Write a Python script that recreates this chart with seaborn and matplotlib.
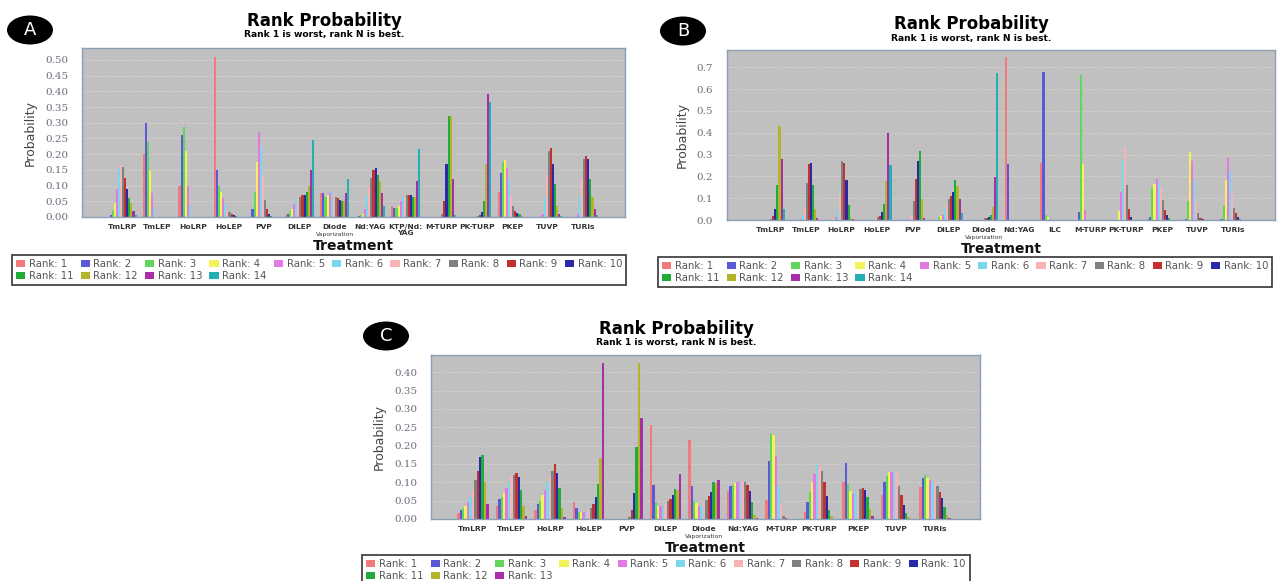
import numpy as np
import pandas as pd
import matplotlib
matplotlib.use("Agg")
import matplotlib.pyplot as plt
from matplotlib.patches import Ellipse, Patch
from matplotlib import font_manager
from matplotlib.transforms import blended_transform_factory
import seaborn as sns

W, H = 1284, 581

# treatments per panel
treatments_a = ["TmLRP", "TmLEP", "HoLRP", "HoLEP", "PVP", "DiLEP", "Diode Vaporization",
                "Nd:YAG", "KTP/Nd:YAG", "M-TURP", "PK-TURP", "PKEP", "TUVP", "TURis"]
treatments_b = ["TmLRP", "TmLEP", "HoLRP", "HoLEP", "PVP", "DiLEP", "Diode Vaporization",
                "Nd:YAG", "ILC", "M-TURP", "PK-TURP", "PKEP", "TUVP", "TURis"]
treatments_c = ["TmLRP", "TmLEP", "HoLRP", "HoLEP", "PVP", "DiLEP", "Diode Vaporization",
                "Nd:YAG", "M-TURP", "PK-TURP", "PKEP", "TUVP", "TURis"]

# rank probabilities, one row per treatment, rank 1 .. N
probs_a = [
    [0.0, 0.005, 0.02, 0.045, 0.09, 0.155, 0.165, 0.16, 0.125, 0.09, 0.06, 0.045, 0.02, 0.005],
    [0.20, 0.30, 0.24, 0.15, 0.075, 0.03, 0.005, 0, 0, 0, 0, 0, 0, 0],
    [0.10, 0.26, 0.285, 0.21, 0.10, 0.035, 0.01, 0, 0, 0, 0, 0, 0, 0],
    [0.51, 0.15, 0.10, 0.08, 0.06, 0.04, 0.02, 0.015, 0.01, 0.005, 0.003, 0, 0, 0],
    [0.0, 0.025, 0.08, 0.175, 0.27, 0.22, 0.13, 0.055, 0.025, 0.008, 0.002, 0, 0, 0],
    [0.005, 0.01, 0.02, 0.025, 0.04, 0.06, 0.065, 0.065, 0.07, 0.07, 0.08, 0.10, 0.15, 0.245],
    [0.075, 0.075, 0.065, 0.07, 0.075, 0.08, 0.075, 0.065, 0.06, 0.055, 0.05, 0.05, 0.075, 0.12],
    [0.0, 0.002, 0.005, 0.01, 0.025, 0.07, 0.10, 0.125, 0.15, 0.155, 0.135, 0.115, 0.075, 0.035],
    [0.035, 0.03, 0.03, 0.035, 0.05, 0.065, 0.065, 0.07, 0.07, 0.07, 0.065, 0.065, 0.115, 0.215],
    [0, 0, 0, 0, 0, 0, 0.003, 0.01, 0.05, 0.17, 0.32, 0.32, 0.12, 0.005],
    [0, 0, 0, 0, 0, 0, 0, 0.002, 0.005, 0.015, 0.05, 0.17, 0.39, 0.365],
    [0.08, 0.14, 0.175, 0.18, 0.155, 0.12, 0.07, 0.035, 0.02, 0.012, 0.008, 0.003, 0, 0],
    [0, 0, 0, 0, 0.01, 0.065, 0.135, 0.21, 0.22, 0.17, 0.105, 0.035, 0.01, 0.003],
    [0, 0, 0, 0, 0.01, 0.065, 0.12, 0.185, 0.195, 0.185, 0.12, 0.065, 0.025, 0.005],
]
probs_b = [
    [0, 0, 0, 0, 0, 0, 0, 0.005, 0.02, 0.05, 0.16, 0.43, 0.28, 0.05],
    [0, 0, 0, 0, 0.005, 0.025, 0.06, 0.17, 0.255, 0.26, 0.16, 0.05, 0.01, 0],
    [0, 0, 0, 0.005, 0.015, 0.045, 0.12, 0.27, 0.26, 0.185, 0.07, 0.01, 0.005, 0],
    [0, 0, 0, 0, 0, 0.005, 0.01, 0.015, 0.02, 0.035, 0.075, 0.18, 0.40, 0.25],
    [0, 0, 0, 0, 0.005, 0.01, 0.02, 0.085, 0.19, 0.27, 0.315, 0.095, 0.01, 0],
    [0, 0, 0.015, 0.02, 0.025, 0.05, 0.07, 0.095, 0.11, 0.13, 0.185, 0.155, 0.095, 0.03],
    [0, 0, 0, 0, 0, 0.002, 0.003, 0.008, 0.01, 0.015, 0.025, 0.06, 0.195, 0.675],
    [0.745, 0.255, 0, 0, 0, 0, 0, 0, 0, 0, 0, 0, 0, 0],
    [0.26, 0.68, 0.025, 0.015, 0.005, 0, 0, 0, 0, 0, 0, 0, 0, 0],
    [0, 0.035, 0.665, 0.255, 0.045, 0, 0, 0, 0, 0, 0, 0, 0, 0],
    [0, 0, 0, 0.04, 0.13, 0.275, 0.33, 0.16, 0.05, 0.015, 0, 0, 0, 0],
    [0.003, 0.015, 0.145, 0.165, 0.19, 0.17, 0.15, 0.09, 0.045, 0.025, 0.008, 0, 0, 0],
    [0, 0.003, 0.085, 0.31, 0.27, 0.185, 0.085, 0.03, 0.01, 0.003, 0, 0, 0, 0],
    [0, 0.005, 0.065, 0.185, 0.285, 0.225, 0.13, 0.055, 0.03, 0.015, 0.003, 0, 0, 0],
]
probs_c = [
    [0.015, 0.025, 0.03, 0.035, 0.045, 0.06, 0.08, 0.105, 0.13, 0.17, 0.175, 0.10, 0.04],
    [0.035, 0.055, 0.06, 0.07, 0.085, 0.10, 0.115, 0.12, 0.125, 0.115, 0.08, 0.035, 0.008],
    [0.025, 0.04, 0.05, 0.065, 0.08, 0.10, 0.115, 0.13, 0.15, 0.125, 0.085, 0.03, 0.005],
    [0.045, 0.03, 0.02, 0.018, 0.02, 0.02, 0.025, 0.03, 0.04, 0.06, 0.095, 0.165, 0.425],
    [0, 0, 0, 0, 0, 0, 0, 0.005, 0.025, 0.07, 0.195, 0.425, 0.275],
    [0.257, 0.093, 0.046, 0.036, 0.035, 0.036, 0.04, 0.048, 0.055, 0.066, 0.082, 0.08, 0.123],
    [0.216, 0.089, 0.05, 0.043, 0.035, 0.035, 0.045, 0.053, 0.062, 0.074, 0.10, 0.098, 0.105],
    [0.075, 0.089, 0.093, 0.098, 0.10, 0.102, 0.103, 0.10, 0.093, 0.077, 0.047, 0.012, 0.003],
    [0.053, 0.159, 0.232, 0.23, 0.173, 0.09, 0.039, 0.009, 0.003, 0, 0, 0, 0],
    [0.02, 0.047, 0.073, 0.10, 0.123, 0.146, 0.143, 0.132, 0.10, 0.064, 0.025, 0.007, 0],
    [0.10, 0.152, 0.096, 0.075, 0.069, 0.073, 0.077, 0.082, 0.084, 0.08, 0.059, 0.027, 0.007],
    [0.066, 0.10, 0.118, 0.127, 0.129, 0.128, 0.125, 0.09, 0.066, 0.038, 0.016, 0.005, 0],
    [0.086, 0.112, 0.12, 0.112, 0.107, 0.102, 0.10, 0.089, 0.073, 0.057, 0.032, 0.012, 0.003],
]

rank_colors = ["#f27a7a", "#5a5ad8", "#62d65a", "#f2f25a", "#e27ae2", "#7ad8ee", "#f8b4b4",
               "#808080", "#c23030", "#2a2aa8", "#22aa3a", "#b4b42a", "#a82ea8", "#22b0b4"]

# tick labels that are split over two lines
wrap = {"KTP/Nd:YAG": "KTP/Nd:\nYAG"}
small_second_line = {"Diode Vaporization": ("Diode", "Vaporization")}

sns.set_style("white")
names = {f.name for f in font_manager.fontManager.ttflist}
narrow = "Liberation Sans Narrow" if "Liberation Sans Narrow" in names else "DejaVu Sans"
plt.rcParams["font.family"] = ["DejaVu Sans"]


def fx(x):
    return x / W


def fy(y):
    return 1 - y / H


def long_table(treatments, probs):
    rows = []
    for t, vals in zip(treatments, probs):
        for r, v in enumerate(vals, 1):
            rows.append({"Treatment": t, "Rank": f"Rank: {r}", "Probability": v})
    return pd.DataFrame(rows)


def legend_order(n, ncol):
    # matplotlib fills legend column by column; reorder so it reads row by row
    nrows = int(np.ceil(n / ncol))
    order = []
    for c in range(ncol):
        for r in range(nrows):
            i = r * ncol + c
            if i < n:
                order.append(i)
    return order


def draw_panel(box, treatments, probs, ylim, yticks, fmt, xlim, letter, badge,
               title_xy, legend_xy):
    left, top, right, bottom = box
    ax_h = bottom - top
    ax = fig.add_axes([fx(left), fy(bottom), fx(right - left), ax_h / H])
    ax.set_facecolor("#c0c0c0")
    n_ranks = len(probs[0])
    df = long_table(treatments, probs)
    hue_order = [f"Rank: {r}" for r in range(1, n_ranks + 1)]
    sns.barplot(data=df, x="Treatment", y="Probability", hue="Rank", order=treatments,
                hue_order=hue_order, palette=rank_colors[:n_ranks], width=0.82,
                saturation=1, errorbar=None, legend=False, linewidth=0, ax=ax)
    ax.set_xlim(*xlim)
    ax.set_ylim(*ylim)
    ax.set_yticks(yticks)
    ax.set_yticklabels([fmt.format(v) for v in yticks], family="DejaVu Serif",
                       fontsize=7.5, color="#6c6c7c")
    ax.set_xticks(range(len(treatments)))
    labels = []
    for t in treatments:
        if t in small_second_line:
            labels.append(small_second_line[t][0])
        else:
            labels.append(wrap.get(t, t))
    ax.set_xticklabels(labels, fontsize=5.4, fontweight="bold", color="#333333",
                       linespacing=0.95, va="top")
    trans = blended_transform_factory(ax.transData, ax.transAxes)
    for i, t in enumerate(treatments):
        if t in small_second_line:
            ax.text(i, -15 / ax_h, small_second_line[t][1], transform=trans, fontsize=4.4,
                    ha="center", va="top", color="#333333")
    ax.tick_params(axis="x", length=2, pad=3, color="#8aa0b8")
    ax.tick_params(axis="y", length=2, pad=8, color="#8aa0b8")
    ax.yaxis.grid(True, color="#e6d4d4", linestyle=(0, (2, 2)), linewidth=0.6)
    ax.set_axisbelow(True)
    for sp in ax.spines.values():
        sp.set_color("#8aa0b8")
        sp.set_linewidth(1.0)
    ax.set_xlabel("Treatment", fontsize=10, fontweight="bold", color="#111111")
    ax.xaxis.set_label_coords(0.5, -29 / ax_h)
    ax.xaxis.label.set_va("center")
    ax.set_ylabel("Probability", family=narrow, fontsize=9, color="#444444", labelpad=6)

    # panel badge
    bx, by = badge
    fig.patches.append(Ellipse((fx(bx), fy(by)), 46 / W, 29 / H, transform=fig.transFigure,
                               facecolor="black", edgecolor="none"))
    fig.text(fx(bx), fy(by), letter, color="white", fontsize=13, ha="center", va="center")

    # titles
    tx, ty = title_xy
    fig.text(fx(tx), fy(ty), "Rank Probability", fontsize=12, fontweight="heavy",
             ha="center", va="center", color="black")
    fig.text(fx(tx), fy(ty + 14), "Rank 1 is worst, rank N is best.", fontsize=6.6,
             fontweight="bold", ha="center", va="center", color="black")

    # legend
    handles = [Patch(facecolor=c, edgecolor="none") for c in rank_colors[:n_ranks]]
    order = legend_order(n_ranks, 10)
    lx, ly = legend_xy
    leg = fig.legend([handles[i] for i in order], [hue_order[i] for i in order], ncol=10,
                     loc="upper left", bbox_to_anchor=(fx(lx), fy(ly)),
                     bbox_transform=fig.transFigure, fontsize=7.3, labelcolor="#555555",
                     frameon=True, fancybox=False, edgecolor="#333333", framealpha=1,
                     handlelength=0.9, handleheight=0.55, handletextpad=0.35,
                     columnspacing=0.72, borderpad=0.4, labelspacing=0.2,
                     borderaxespad=0)
    leg.get_frame().set_linewidth(1.2)
    return ax


fig = plt.figure(figsize=(W / 100, H / 100), dpi=100)
fig.patch.set_facecolor("white")

draw_panel((82, 48, 625, 217), treatments_a, probs_a, (0, 0.538),
           np.arange(0, 0.501, 0.05), "{:.2f}", (-1.13, 14.18), "A", (30, 30),
           (324, 21), (12, 255))
draw_panel((727, 50, 1275, 220), treatments_b, probs_b, (0, 0.779),
           np.arange(0, 0.71, 0.1), "{:.1f}", (-1.21, 14.18), "B", (683, 31),
           (971, 24), (658, 257))
draw_panel((431, 355, 980, 519), treatments_c, probs_c, (0, 0.447),
           np.arange(0, 0.401, 0.05), "{:.2f}", (-1.09, 13.17), "C", (386, 336),
           (676, 329), (362, 555))

fig.savefig("out.png", dpi=100, facecolor="white")
